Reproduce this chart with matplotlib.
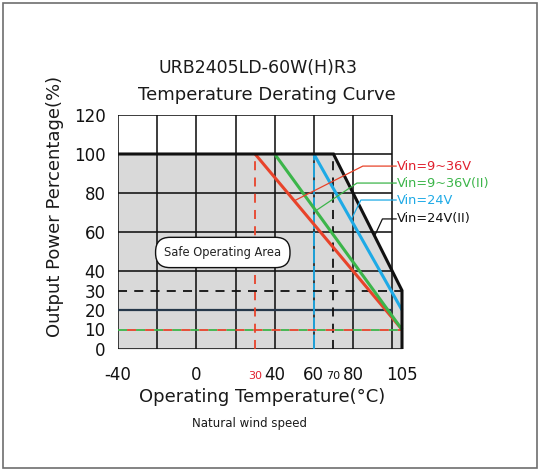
import numpy as np
import matplotlib
matplotlib.use("Agg")
import matplotlib.pyplot as plt
from matplotlib.patches import Rectangle

# ---- data ----
series_names = ["Vin=9~36V", "Vin=9~36V(II)", "Vin=24V", "Vin=24V(II)"]
red_T = [30, 105]
red_P = [100, 10]
green_T = [40, 105]
green_P = [100, 10]
blue_T = [60, 105]
blue_P = [100, 20]
black_T = [-40, 70, 105, 105]
black_P = [100, 100, 30, 0]
leader_T = [50, 61, 79, 91]        # where leader lines touch each curve
corner_T = [85, 82, 84, 95]        # elbow of each leader line
label_P = [93.8, 85.1, 76.4, 66.7] # label heights
x_ticks = [-40, 0, 30, 40, 60, 70, 80, 105]
x_ticklabels = ["-40", "0", "30", "40", "60", "70", "80", "105"]
y_ticks = [0, 10, 20, 30, 40, 60, 80, 100, 120]
y_ticklabels = ["0", "10", "20", "30", "40", "60", "80", "100", "120"]
grid_x = [-40, -20, 0, 20, 40, 60, 80, 100]
grid_y = [0, 20, 40, 60, 80, 100, 120]

RED = "#e8432a"
GREEN = "#3cb54a"
BLUE = "#1eaae6"
BLACK = "#111111"
LABEL_RED = "#e0202e"

W, H = 540, 471
fig = plt.figure(figsize=(W / 100, H / 100), dpi=100)
ax = fig.add_axes([118 / W, 1 - 349 / H, (402 - 118) / W, (349 - 115) / H])
ax.set_xlim(-40, 105)
ax.set_ylim(0, 120)
for s in ax.spines.values():
    s.set_visible(False)
ax.set_facecolor("none")

# safe area fill
ax.fill_between(black_T, black_P, 0, color="#d9d9d9", lw=0, zorder=0)

# grid / frame
ax.hlines(grid_y, -40, 100, colors=BLACK, lw=1.15, zorder=1)
ax.vlines(grid_x, 0, 120, colors=BLACK, lw=1.15, zorder=1)
ax.hlines([0], 100, 105, colors=BLACK, lw=1.15, zorder=1)
ax.hlines([20], -40, 100, colors="#26384a", lw=1.6, zorder=1)

# dashed reference lines
ax.vlines([30], 0, 100, colors=RED, lw=1.3, linestyles=(0, (5, 4)), zorder=2)
ax.vlines([60], 0, 100, colors=BLUE, lw=1.3, linestyles=(0, (8, 1.5)), zorder=2)
ax.vlines([70], 0, 100, colors=BLACK, lw=1.3, linestyles=(0, (5, 4)), zorder=2)
ax.hlines([30], -40, 105, colors=BLACK, lw=1.3, linestyles=(0, (5, 4)), zorder=2)
ax.hlines([10], -40, 105, colors=GREEN, lw=1.3, linestyles=(0, (5, 5)), zorder=2)
ax.hlines([10], -40, 105, colors=RED, lw=1.3, linestyles=(5, (5, 5)), zorder=2)

# curves
curves = [(red_T, red_P, RED), (green_T, green_P, GREEN),
          (blue_T, blue_P, BLUE), (black_T, black_P, BLACK)]
for (T, P, c) in curves:
    ax.plot(T, P, color=c, lw=2.2, zorder=3, solid_joinstyle="miter",
            solid_capstyle="butt", clip_on=False)

# leaders and labels
label_colors = [LABEL_RED, GREEN, BLUE, BLACK]
leader_colors = [RED, GREEN, BLUE, BLACK]
label_x = 102
for i, (T, P, c) in enumerate(curves):
    if i == 3:
        yT = np.interp(leader_T[i], T[1:3], P[1:3])
    else:
        yT = np.interp(leader_T[i], T, P)
    ax.plot([label_x, corner_T[i], leader_T[i]], [label_P[i], label_P[i], yT],
            color=leader_colors[i], lw=0.9, zorder=3, clip_on=False)
    ax.text(label_x + 0.2, label_P[i], series_names[i], color=label_colors[i],
            fontsize=9.3, ha="left", va="center", zorder=5, clip_on=False)

# safe operating area label
ax.text(13.5, 49.5, "Safe Operating Area", fontsize=8.3, ha="center", va="center",
        color="#222222", zorder=4,
        bbox=dict(boxstyle="round,pad=0.75,rounding_size=1.25", fc="white",
                  ec=BLACK, lw=1.0))

# ticks
ax.set_xticks(x_ticks)
ax.set_xticklabels(x_ticklabels)
ax.set_yticks(y_ticks)
ax.set_yticklabels(y_ticklabels)
ax.tick_params(axis="both", length=0, labelsize=12, colors="#111111")
ax.tick_params(axis="x", pad=12)
ax.tick_params(axis="y", pad=9)
for tick, txt in zip(ax.xaxis.get_major_ticks(), x_ticklabels):
    if txt in ("30", "70"):
        tick.label1.set_fontsize(8)
        tick.set_pad(15.5)
        if txt == "30":
            tick.label1.set_color(LABEL_RED)

# texts
fig.text(258 / W, 1 - 68 / H, "URB2405LD-60W(H)R3", fontsize=12.5,
         ha="center", va="center", color="#1a1a1a")
fig.text(267 / W, 1 - 95 / H, "Temperature Derating Curve", fontsize=13,
         ha="center", va="center", color="#1a1a1a")
fig.text(55 / W, 1 - 206 / H, "Output Power Percentage(%)", fontsize=13,
         rotation=90, ha="center", va="center", color="#1a1a1a")
fig.text(262 / W, 1 - 397 / H, "Operating Temperature(°C)", fontsize=13,
         ha="center", va="center", color="#1a1a1a")
fig.text(250 / W, 1 - 423 / H, "Natural wind speed", fontsize=8.5,
         ha="center", va="center", color="#1a1a1a")

# outer frame
fig.patches.append(Rectangle((3 / W, 3 / H), 534 / W, 465 / H, transform=fig.transFigure,
                             fill=False, ec="#6e6e6e", lw=1.2))

fig.savefig("out.png", dpi=100)
